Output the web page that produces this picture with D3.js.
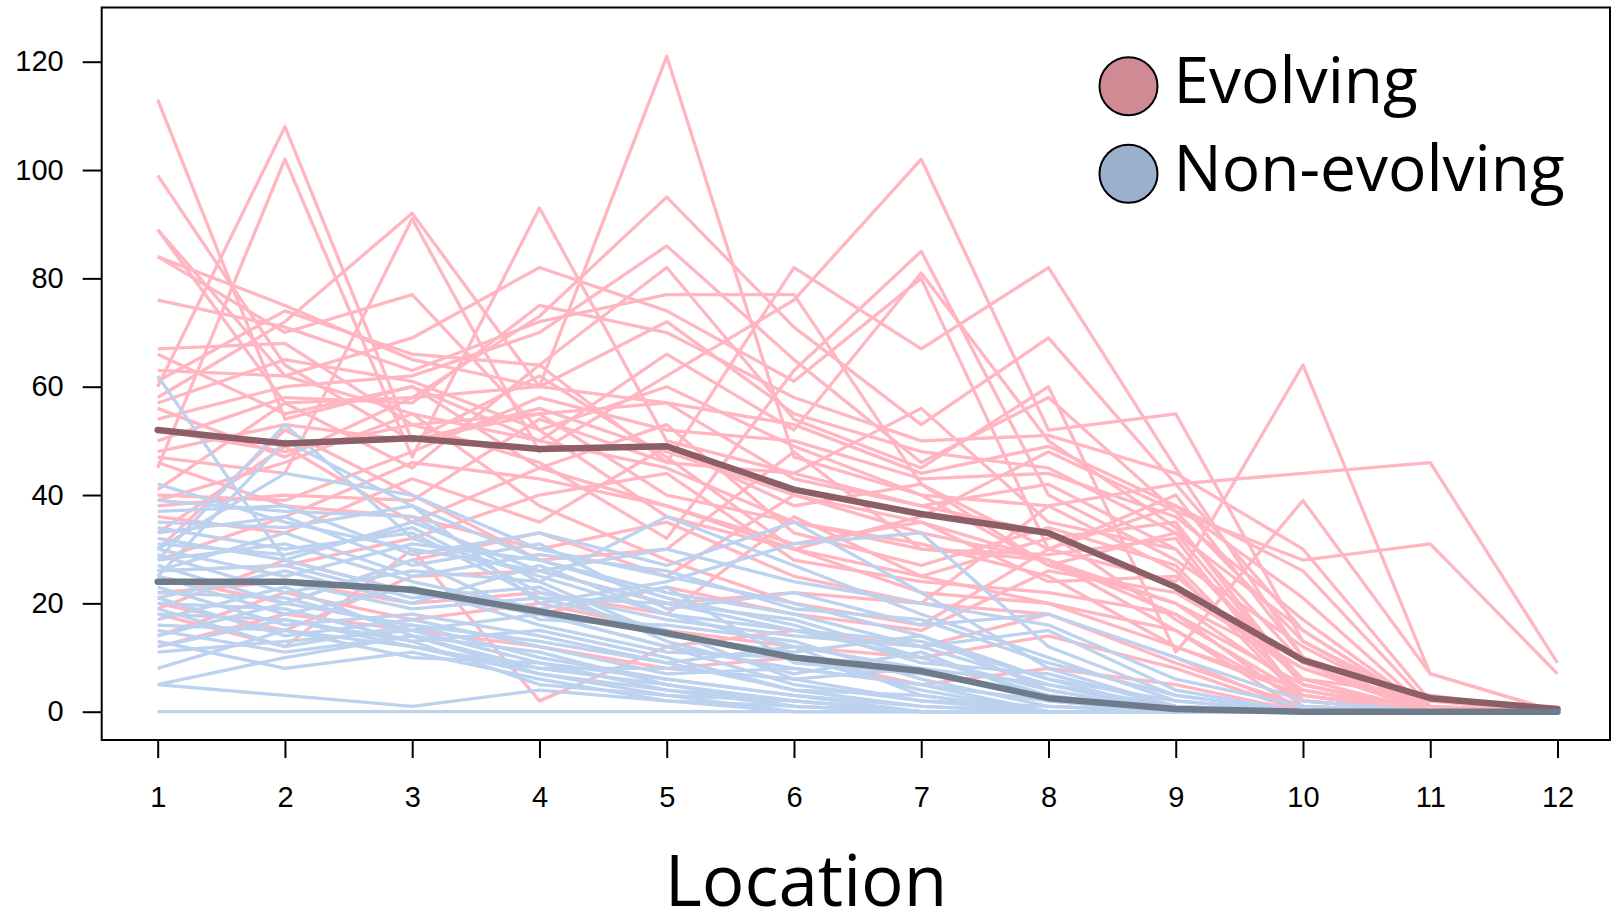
<!DOCTYPE html>
<html>
<head>
<meta charset="utf-8">
<script src="https://cdn.jsdelivr.net/npm/d3@7"></script>
<style>
  html, body { margin: 0; padding: 0; background: #fff; }
  #chart { width: 1613px; height: 921px; }
  .tick text { font-family: "Liberation Sans", Arial, sans-serif; font-size: 29px; fill: #000; }
  .tick line { stroke: #000; stroke-width: 2px; }
</style>
</head>
<body>
<div id="chart"></div>
<script>
// locations along the x axis
const locations = [1, 2, 3, 4, 5, 6, 7, 8, 9, 10, 11, 12];
const yTicks = [0, 20, 40, 60, 80, 100, 120];

// one row per evolving case, values at location 1..12
const evolving = [
  [113, 54, 60, 45, 38, 30, 22, 20, 12, 3, 0, 0],
  [99, 64, 50, 56, 48, 40, 35, 28, 18, 5, 0, 0],
  [89, 62, 55, 50, 66, 52, 81, 50, 34, 9, 0, 0],
  [89, 57, 45, 64, 46, 82, 67, 82, 45, 10, 2, 0],
  [84, 75, 65, 60, 72, 55, 48, 45, 33, 5, 0, 0],
  [84, 70, 77, 52, 36, 30, 25, 20, 15, 2, 0, 0],
  [76, 71, 63, 72, 77, 77, 42, 30, 38, 21, 0, 0],
  [67, 68, 53, 46, 32, 63, 85, 40, 28, 12, 0, 0],
  [60, 108, 50, 55, 40, 35, 30, 28, 20, 8, 1, 0],
  [45, 102, 47, 93, 50, 44, 56, 35, 30, 5, 0, 0],
  [58, 72, 92, 60, 121, 47, 40, 38, 42, 15, 0, 0],
  [47, 44, 91, 48, 62, 76, 102, 52, 55, 13, 0, 0],
  [63, 62, 69, 82, 74, 61, 80, 30, 24, 64, 7, 0],
  [56, 47, 58, 73, 95, 71, 53, 69, 42, 44, 46, 9],
  [54, 60, 62, 70, 86, 65, 46, 58, 37, 28, 31, 7],
  [61, 74, 66, 64, 82, 54, 45, 60, 11, 39, 7, 0],
  [50, 58, 57, 75, 70, 58, 50, 51, 44, 30, 2, 0],
  [41, 57, 58, 60, 57, 53, 44, 49, 38, 26, 1, 0],
  [40, 39, 48, 58, 52, 50, 43, 44, 36, 17, 0, 0],
  [38, 40, 39, 54, 46, 44, 38, 42, 30, 6, 0, 0],
  [36, 33, 43, 35, 49, 38, 42, 27, 20, 4, 0, 0],
  [33, 49, 35, 45, 53, 33, 27, 34, 27, 3, 0, 0],
  [30, 52, 40, 28, 30, 48, 30, 29, 32, 2, 0, 0],
  [28, 36, 46, 43, 38, 31, 35, 24, 25, 6, 3, 0],
  [26, 27, 32, 40, 44, 28, 24, 22, 18, 1, 0, 0],
  [25, 20, 28, 33, 25, 40, 33, 28, 15, 0, 0, 0],
  [22, 24, 20, 22, 18, 36, 25, 32, 35, 5, 0, 0],
  [20, 15, 25, 26, 20, 22, 20, 38, 26, 2, 0, 0],
  [19, 28, 22, 18, 23, 18, 15, 26, 22, 8, 0, 0],
  [18, 12, 30, 2, 12, 15, 12, 18, 10, 0, 0, 0],
  [14, 22, 17, 20, 15, 12, 10, 14, 8, 0, 0, 0],
  [12, 18, 15, 12, 8, 10, 5, 8, 5, 0, 0, 0],
  [52, 48, 53, 55, 57, 43, 38, 33, 17, 3, 0, 0],
  [66, 55, 60, 50, 45, 35, 31, 25, 12, 4, 0, 0],
  [48, 53, 50, 62, 47, 30, 36, 48, 37, 13, 1, 0],
  [46, 38, 36, 30, 35, 25, 20, 18, 9, 1, 0, 0],
  [57, 65, 61, 52, 60, 49, 40, 27, 33, 15, 0, 0],
  [39, 46, 55, 38, 28, 20, 16, 30, 40, 10, 0, 0]
];

// one row per non-evolving case
const nonEvolving = [
  [62, 28, 22, 18, 12, 8, 5, 2, 0, 0, 0, 0],
  [42, 35, 30, 26, 20, 15, 10, 3, 0, 0, 0, 0],
  [28, 53, 32, 25, 18, 12, 8, 2, 0, 0, 0, 0],
  [25, 50, 38, 28, 22, 18, 12, 5, 1, 0, 0, 0],
  [30, 44, 40, 30, 25, 20, 14, 6, 0, 0, 0, 0],
  [5, 3, 1, 4, 2, 0, 0, 0, 0, 0, 0, 0],
  [0, 0, 0, 0, 0, 0, 0, 0, 0, 0, 0, 0],
  [39, 37, 36, 24, 36, 27, 18, 10, 2, 0, 0, 0],
  [37, 38, 29, 33, 27, 35, 22, 8, 1, 0, 0, 0],
  [35, 34, 38, 20, 24, 31, 33, 12, 3, 0, 0, 0],
  [33, 36, 27, 31, 19, 22, 16, 18, 10, 2, 0, 0],
  [31, 29, 34, 22, 17, 14, 12, 15, 4, 0, 0, 0],
  [30, 25, 31, 28, 21, 16, 9, 7, 1, 0, 0, 0],
  [29, 22, 26, 24, 14, 11, 14, 4, 0, 0, 0, 0],
  [28, 31, 24, 19, 23, 9, 7, 3, 0, 0, 0, 0],
  [27, 20, 28, 17, 16, 13, 6, 1, 0, 0, 0, 0],
  [26, 27, 21, 23, 13, 7, 11, 2, 0, 0, 0, 0],
  [25, 18, 23, 16, 11, 10, 4, 0, 0, 0, 0, 0],
  [24, 24, 19, 21, 15, 6, 8, 5, 0, 0, 0, 0],
  [23, 16, 18, 14, 9, 12, 3, 0, 0, 0, 0, 0],
  [22, 21, 15, 18, 12, 5, 2, 1, 0, 0, 0, 0],
  [21, 14, 17, 12, 7, 8, 5, 0, 0, 0, 0, 0],
  [20, 19, 13, 15, 10, 4, 1, 0, 0, 0, 0, 0],
  [19, 12, 16, 10, 6, 3, 0, 0, 0, 0, 0, 0],
  [18, 17, 12, 8, 8, 6, 2, 0, 0, 0, 0, 0],
  [17, 23, 14, 11, 5, 2, 0, 0, 0, 0, 0, 0],
  [16, 15, 10, 9, 4, 1, 0, 0, 0, 0, 0, 0],
  [15, 11, 14, 7, 3, 0, 0, 0, 0, 0, 0, 0],
  [14, 20, 16, 13, 9, 4, 3, 0, 0, 0, 0, 0],
  [13, 8, 11, 6, 2, 1, 0, 0, 0, 0, 0, 0],
  [12, 17, 13, 5, 3, 2, 0, 0, 0, 0, 0, 0],
  [11, 13, 15, 9, 6, 3, 1, 0, 0, 0, 0, 0],
  [8, 15, 12, 7, 4, 2, 0, 0, 0, 0, 0, 0],
  [5, 10, 14, 8, 5, 1, 0, 0, 0, 0, 0, 0],
  [32, 28, 35, 26, 30, 24, 20, 16, 6, 1, 0, 0],
  [26, 33, 25, 29, 26, 19, 17, 9, 3, 0, 0, 0],
  [21, 26, 20, 27, 18, 15, 13, 6, 2, 0, 0, 0],
  [34, 30, 33, 21, 20, 17, 10, 4, 0, 0, 0, 0]
];

// group averages
const evolvingMean = [52, 49.5, 50.5, 48.5, 49, 41, 36.5, 33, 23, 9.5, 2.5, 0.5];
const nonEvolvingMean = [24, 24, 22.5, 18.5, 14.5, 10, 7.5, 2.5, 0.5, 0, 0, 0];

const legendLabels = ["Evolving", "Non-evolving"];
const legendColors = ["#CF8A94", "#9BB0CD"];

const width = 1613, height = 921;
const box = {l: 101.7, t: 7.5, r: 1610, b: 740};

const svg = d3.select("#chart").append("svg")
    .attr("width", width)
    .attr("height", height);

const x = d3.scaleLinear().domain([1, 12]).range([157.7, 1557.5]);
const y = d3.scaleLinear().domain([0, 120]).range([711.7, 61.7]);

const line = d3.line()
    .x((d, i) => x(locations[i]))
    .y(d => y(d));

// thin lines, pink first then blue on top
svg.append("g").selectAll("path").data(evolving).enter().append("path")
    .attr("d", line)
    .attr("fill", "none")
    .attr("stroke", "#FFB6C1")
    .attr("stroke-width", 3.3)
    .attr("stroke-linejoin", "round");

svg.append("g").selectAll("path").data(nonEvolving).enter().append("path")
    .attr("d", line)
    .attr("fill", "none")
    .attr("stroke", "#BCD2EE")
    .attr("stroke-width", 3.3)
    .attr("stroke-linejoin", "round");

// averages
[[evolvingMean, "#8B5F65"], [nonEvolvingMean, "#6E7B8B"]].forEach(m => {
    svg.append("path")
        .attr("d", line(m[0]))
        .attr("fill", "none")
        .attr("stroke", m[1])
        .attr("stroke-width", 6.5)
        .attr("stroke-linecap", "round")
        .attr("stroke-linejoin", "round");
});

// frame
svg.append("rect")
    .attr("x", box.l).attr("y", box.t)
    .attr("width", box.r - box.l).attr("height", box.b - box.t)
    .attr("fill", "none").attr("stroke", "#000").attr("stroke-width", 2);

// axes
const yAxis = svg.append("g")
    .attr("transform", "translate(" + box.l + ",0)")
    .call(d3.axisLeft(y).tickValues(yTicks).tickSize(19).tickPadding(19));
yAxis.select(".domain").remove();

const xAxis = svg.append("g")
    .attr("transform", "translate(0," + box.b + ")")
    .call(d3.axisBottom(x).tickValues(locations).tickFormat(d3.format("d")).tickSize(18).tickPadding(28));
xAxis.select(".domain").remove();

svg.append("text")
    .attr("x", 806).attr("y", 906)
    .attr("text-anchor", "middle")
    .style("font-family", "'Open Sans', sans-serif")
    .style("font-size", "71px")
    .text("Location");

// legend
const legend = svg.append("g").selectAll("g").data(legendLabels).enter().append("g")
    .attr("transform", (d, i) => "translate(1128.5," + (86.3 + i * 87.4) + ")");
legend.append("circle")
    .attr("r", 29)
    .attr("fill", (d, i) => legendColors[i])
    .attr("stroke", "#000").attr("stroke-width", 2);
legend.append("text")
    .attr("x", 45).attr("y", 17)
    .style("font-family", "'Open Sans', sans-serif")
    .style("font-size", "64px")
    .text(d => d);
</script>
</body>
</html>
